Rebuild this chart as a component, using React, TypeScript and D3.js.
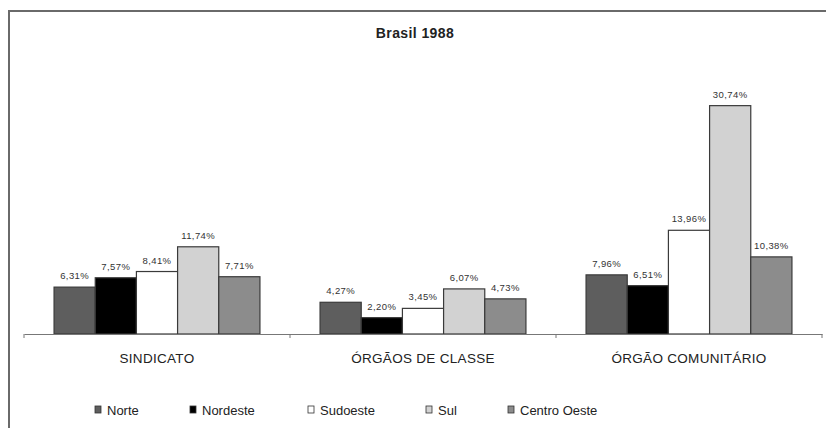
import React, { useEffect, useRef } from 'react';
import * as d3 from 'd3';

const categories = ['SINDICATO', 'ÓRGÃOS DE CLASSE', 'ÓRGÃO COMUNITÁRIO'];
const regions = ['Norte', 'Nordeste', 'Sudoeste', 'Sul', 'Centro Oeste'];
const norte = [6.31, 4.27, 7.96];
const nordeste = [7.57, 2.2, 6.51];
const sudoeste = [8.41, 3.45, 13.96];
const sul = [11.74, 6.07, 30.74];
const centroOeste = [7.71, 4.73, 10.38];
const seriesValues = [norte, nordeste, sudoeste, sul, centroOeste];
const regionColors = ['#5e5e5e', '#000000', '#ffffff', '#d2d2d2', '#8c8c8c'];

const App = () => {
  const svgRef = useRef(null);

  useEffect(() => {
    const width = 826;
    const height = 428;
    const svg = d3.select(svgRef.current);
    svg.selectAll('*').remove();

    // frame (right and bottom edges fall outside the picture)
    svg.append('rect')
      .attr('x', 9).attr('y', 11)
      .attr('width', 840).attr('height', 440)
      .attr('fill', 'white')
      .attr('stroke', '#6a6a6a')
      .attr('stroke-width', 2);

    // title
    svg.append('text')
      .attr('x', 415).attr('y', 38)
      .attr('text-anchor', 'middle')
      .style('font-family', 'Arial, "Liberation Sans", sans-serif')
      .style('font-size', '14px')
      .style('font-weight', 'bold')
      .style('letter-spacing', '0.4px')
      .attr('fill', '#222')
      .text('Brasil 1988');

    const plotLeft = 24;
    const plotRight = 822;
    const baseline = 334;

    const x0 = d3.scaleBand()
      .domain(categories)
      .range([plotLeft, plotRight])
      .paddingInner(0)
      .paddingOuter(0);

    const x1 = d3.scaleBand()
      .domain(regions)
      .range([0, x0.bandwidth()])
      .paddingOuter(0.73)
      .paddingInner(0);

    const y = d3.scaleLinear()
      .domain([0, 35])
      .range([baseline, 74]);

    const font = 'Arial, "Liberation Sans", sans-serif';

    categories.forEach((cat, ci) => {
      const g = svg.append('g').attr('transform', `translate(${x0(cat)},0)`);
      regions.forEach((reg, ri) => {
        const v = seriesValues[ri][ci];
        g.append('rect')
          .attr('x', x1(reg))
          .attr('y', y(v))
          .attr('width', x1.bandwidth())
          .attr('height', baseline - y(v))
          .attr('fill', regionColors[ri])
          .attr('stroke', '#3a3a3a')
          .attr('stroke-width', 1.2);
        g.append('text')
          .attr('x', x1(reg) + x1.bandwidth() / 2)
          .attr('y', y(v) - 8)
          .attr('text-anchor', 'middle')
          .style('font-family', font)
          .style('font-size', '9.5px')
          .style('letter-spacing', '0.4px')
          .attr('fill', '#333')
          .text(v.toFixed(2).replace('.', ',') + '%');
      });
    });

    // category axis
    const axis = svg.append('g').attr('transform', `translate(0,${baseline})`);
    axis.call(d3.axisBottom(x0).tickSize(0).tickFormat(() => ''));
    axis.select('.domain').attr('stroke', '#777').attr('stroke-width', 1.2);
    const tickPos = [plotLeft, ...categories.map(c => x0(c) + x0.bandwidth())];
    tickPos.forEach(tx => {
      axis.append('line')
        .attr('x1', tx).attr('x2', tx)
        .attr('y1', 0).attr('y2', 4)
        .attr('stroke', '#777');
    });
    categories.forEach(cat => {
      axis.append('text')
        .attr('x', x0(cat) + x0.bandwidth() / 2)
        .attr('y', 29)
        .attr('text-anchor', 'middle')
        .style('font-family', font)
        .style('font-size', '13.5px')
        .style('letter-spacing', '0.3px')
        .attr('fill', '#222')
        .text(cat);
    });

    // legend
    const legendX = [95, 190, 308, 426, 508];
    const legend = svg.append('g').attr('transform', 'translate(0,410)');
    regions.forEach((reg, i) => {
      legend.append('rect')
        .attr('x', legendX[i]).attr('y', -4)
        .attr('width', 6).attr('height', 7)
        .attr('fill', regionColors[i])
        .attr('stroke', '#333')
        .attr('stroke-width', 0.8);
      legend.append('text')
        .attr('x', legendX[i] + 12)
        .attr('y', 4.5)
        .style('font-family', font)
        .style('font-size', '13px')
        .attr('fill', '#222')
        .text(reg);
    });

    void width; void height;
  }, []);

  return (
    <svg
      ref={svgRef}
      width={826}
      height={428}
      style={{ position: 'absolute', left: 0, top: 0, display: 'block', background: 'white' }}
    />
  );
};

export default App;
